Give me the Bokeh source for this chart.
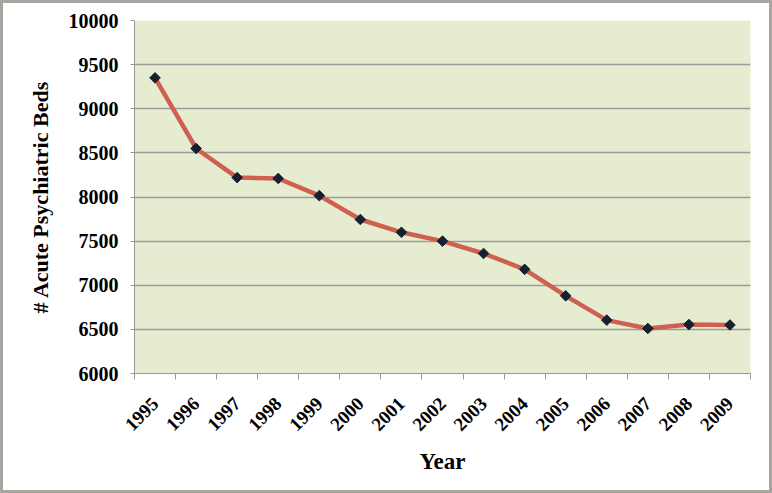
import math
from bokeh.plotting import figure
from bokeh.models import FixedTicker, Range1d, ColumnDataSource
from bokeh.embed import file_html
from bokeh.resources import INLINE

years = ["1995", "1996", "1997", "1998", "1999", "2000", "2001", "2002",
         "2003", "2004", "2005", "2006", "2007", "2008", "2009"]
beds = [9350, 8550, 8220, 8210, 8015, 7745, 7600, 7500,
        7360, 7180, 6880, 6605, 6510, 6555, 6550]
y_ticks = [6000, 6500, 7000, 7500, 8000, 8500, 9000, 9500, 10000]

xpos = [i + 0.5 for i in range(len(years))]
src = ColumnDataSource(dict(x=xpos, y=beds))

W, H = 772, 493
p = figure(width=W, height=H, output_backend="svg", toolbar_location=None,
           x_range=Range1d(0, len(years)), y_range=Range1d(6000, 10000),
           min_border_left=131, min_border_right=25, min_border_top=17,
           min_border_bottom=123)
p.styles = {"border": "3px solid #a8a49f"}
p.background_fill_color = "#e6ecd0"
p.border_fill_color = "white"
p.outline_line_color = None

p.line("x", "y", source=src, line_color="#cf5f4e", line_width=4.5)
p.scatter("x", "y", source=src, marker="square", size=7.5, angle=math.pi / 4,
          fill_color="#152030", line_color="#152030")

font = "Liberation Serif"
# x axis
xa = p.xaxis[0]
xa.ticker = FixedTicker(ticks=xpos, minor_ticks=list(range(len(years) + 1)))
xa.major_label_overrides = {x: y for x, y in zip(xpos, years)}
xa.major_label_orientation = math.pi / 4
xa.major_tick_out = 0
xa.major_tick_in = 0
xa.minor_tick_out = 6
xa.minor_tick_in = 0
xa.minor_tick_line_color = "#999999"
xa.axis_line_color = "#999999"
xa.major_label_text_font = font
xa.major_label_text_font_style = "bold"
xa.major_label_text_font_size = "19px"
xa.major_label_text_color = "black"
xa.major_label_standoff = 21
xa.axis_label = "Year"
xa.axis_label_text_font = font
xa.axis_label_text_font_style = "bold"
xa.axis_label_text_font_size = "23px"
xa.axis_label_text_color = "black"
xa.axis_label_standoff = 9

# y axis
ya = p.yaxis[0]
ya.ticker = FixedTicker(ticks=y_ticks)
ya.major_tick_out = 4
ya.major_tick_in = 0
ya.minor_tick_line_color = None
ya.major_tick_line_color = "#999999"
ya.axis_line_color = "#999999"
ya.major_label_text_font = font
ya.major_label_text_font_style = "bold"
ya.major_label_text_font_size = "20px"
ya.major_label_text_color = "black"
ya.major_label_standoff = 12
ya.axis_label = "# Acute Psychiatric Beds"
ya.axis_label_text_font = font
ya.axis_label_text_font_style = "bold"
ya.axis_label_text_font_size = "22px"
ya.axis_label_text_color = "black"
ya.axis_label_standoff = 13

p.xgrid.grid_line_color = None
p.ygrid.ticker = FixedTicker(ticks=y_ticks)
p.ygrid.grid_line_color = "#9a9a9a"
p.ygrid.grid_line_width = 1.5

open("out.html", "w").write(file_html(p, INLINE))
